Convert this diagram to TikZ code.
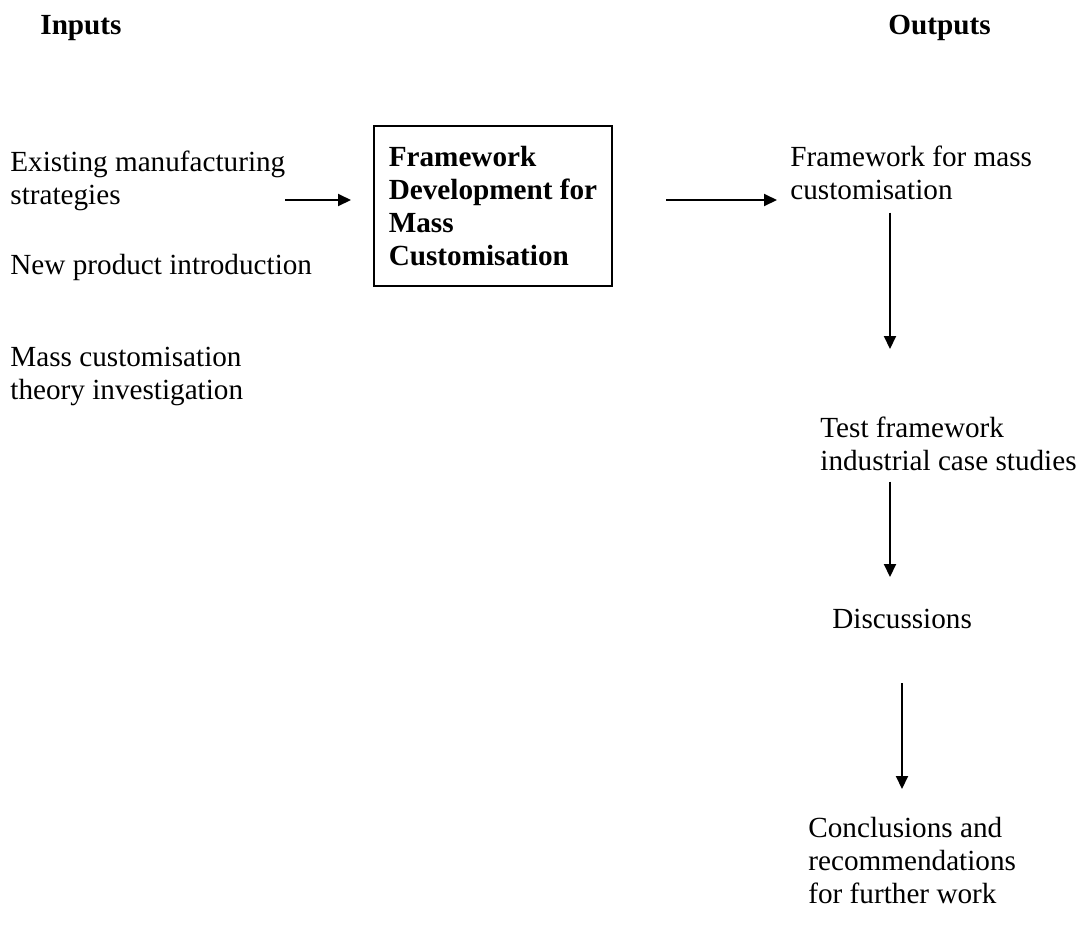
\documentclass[tikz,border=0pt]{standalone}
\usepackage{fontspec}
\setmainfont{Liberation Serif}
\usetikzlibrary{arrows.meta}

\begin{document}
\begin{tikzpicture}[x=0.5pt,y=-0.5pt,
    txt/.style={anchor=north west, inner sep=0pt, align=left, font=\fontsize{14.6}{16.5}\selectfont},
    hd/.style={txt, font=\fontsize{14.6}{16.5}\selectfont\bfseries},
    flow/.style={line width=1pt, -{Triangle[length=6.5pt,width=6pt]}}]
    \useasboundingbox (0,0) rectangle (1084,927);

    \node[hd] (inputs) at (40,15) {Inputs};
    \node[hd] (outputs) at (888,15) {Outputs};

    \node[txt] (ems) at (10,151) {Existing manufacturing\\strategies};
    \node[txt] (npi) at (10,254) {New product introduction};
    \node[txt] (mct) at (10,347) {Mass customisation\\theory investigation};

    \node[draw, line width=1pt, minimum width=119pt, minimum height=80pt, inner xsep=6pt,
      align=left, font=\fontsize{14.6}{16.5}\selectfont\bfseries] (fw) at (493,206)
      {Framework\\Development for\\Mass\\Customisation};

    \node[txt] (ffm) at (790,146) {Framework for mass\\customisation};
    \node[txt] (tfw) at (820,417) {Test framework\\industrial case studies};
    \node[txt] (disc) at (832,609) {Discussions};
    \node[txt] (concl) at (808,817) {Conclusions and\\recommendations\\for further work};

    \coordinate (in) at (285,200);
    \coordinate (d1) at (890,0);
    \coordinate (d3) at (902,0);

    \draw[flow, shorten >=11pt] (in) -- (in -| fw.west);
    \draw[flow, shorten <=26.5pt, shorten >=6.5pt] (in -| fw.east) -- (in -| ffm.west);
    \draw[flow, shorten <=6pt, shorten >=34pt] (ffm.south -| d1) -- (tfw.north -| d1);
    \draw[flow, shorten <=5pt, shorten >=16pt] (tfw.south -| d1) -- (disc.north -| d1);
    \draw[flow, shorten <=27pt, shorten >=14pt] (disc.south -| d3) -- (concl.north -| d3);
\end{tikzpicture}
\end{document}
